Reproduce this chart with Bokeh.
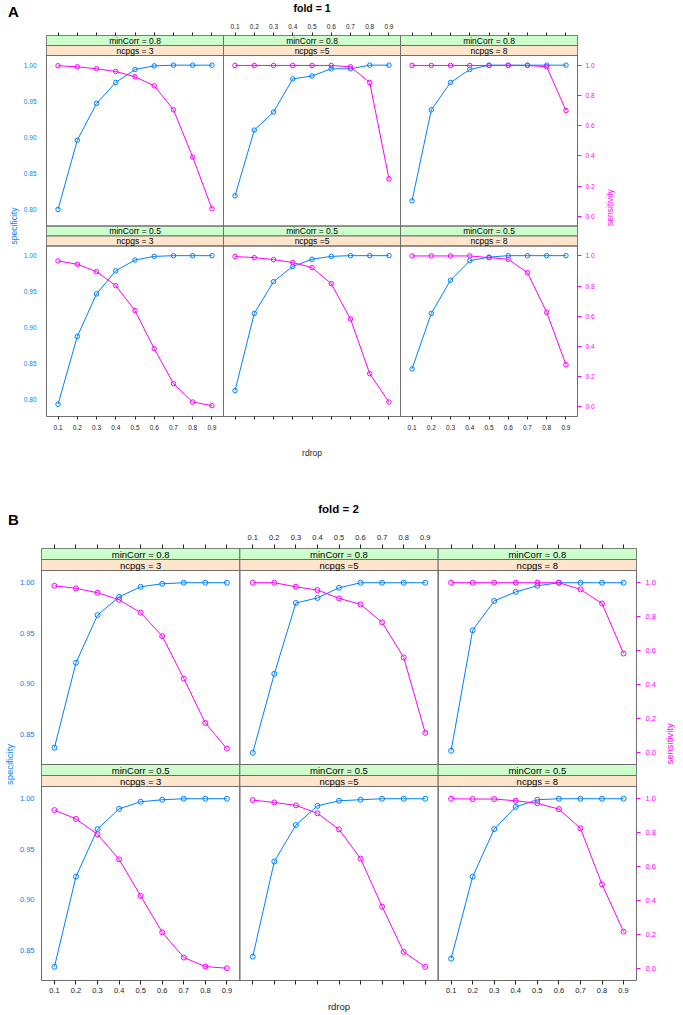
import math
from bokeh.plotting import figure
from bokeh.models import Range1d, LinearAxis, FixedTicker
from bokeh.embed import file_html
from bokeh.resources import INLINE
from bokeh.core.properties import value

# ---------------- data ----------------
rdrop = [0.1, 0.2, 0.3, 0.4, 0.5, 0.6, 0.7, 0.8, 0.9]
rdrop_tick_labels = ["0.1", "0.2", "0.3", "0.4", "0.5", "0.6", "0.7", "0.8", "0.9"]
minCorr_strips = ["minCorr = 0.8", "minCorr = 0.5"]
ncpgs_strips = ["ncpgs = 3", "ncpgs =5", "ncpgs = 8"]
spec_ticks_fold1 = [0.80, 0.85, 0.90, 0.95, 1.00]
spec_labels_fold1 = ["0.80", "0.85", "0.90", "0.95", "1.00"]
spec_ticks_fold2 = [0.85, 0.90, 0.95, 1.00]
spec_labels_fold2 = ["0.85", "0.90", "0.95", "1.00"]
sens_ticks = [0.0, 0.2, 0.4, 0.6, 0.8, 1.0]
sens_labels = ["0.0", "0.2", "0.4", "0.6", "0.8", "1.0"]

# fold 1, minCorr = 0.8
spec_f1_mc08_n3 = [0.800, 0.896, 0.947, 0.976, 0.994, 0.999, 1.000, 1.000, 1.000]
sens_f1_mc08_n3 = [0.998, 0.991, 0.978, 0.960, 0.925, 0.865, 0.706, 0.392, 0.049]
spec_f1_mc08_n5 = [0.819, 0.910, 0.935, 0.981, 0.985, 0.995, 0.995, 1.000, 1.000]
sens_f1_mc08_n5 = [1.000, 1.000, 1.000, 1.000, 1.000, 1.000, 0.991, 0.887, 0.248]
spec_f1_mc08_n8 = [0.812, 0.938, 0.976, 0.994, 1.000, 1.000, 1.000, 1.000, 1.000]
sens_f1_mc08_n8 = [1.000, 1.000, 1.000, 1.000, 1.000, 1.000, 1.000, 0.991, 0.701]
# fold 1, minCorr = 0.5
spec_f1_mc05_n3 = [0.794, 0.888, 0.947, 0.979, 0.994, 0.999, 1.000, 1.000, 1.000]
sens_f1_mc05_n3 = [0.967, 0.945, 0.896, 0.803, 0.637, 0.385, 0.153, 0.031, 0.007]
spec_f1_mc05_n5 = [0.813, 0.920, 0.964, 0.985, 0.995, 0.999, 1.000, 1.000, 1.000]
sens_f1_mc05_n5 = [0.996, 0.989, 0.976, 0.956, 0.923, 0.816, 0.582, 0.219, 0.031]
spec_f1_mc05_n8 = [0.843, 0.920, 0.966, 0.993, 0.998, 1.000, 1.000, 1.000, 1.000]
sens_f1_mc05_n8 = [1.000, 1.000, 1.000, 1.000, 0.989, 0.978, 0.889, 0.626, 0.279]

# fold 2, minCorr = 0.8
spec_f2_mc08_n3 = [0.837, 0.921, 0.968, 0.986, 0.996, 0.999, 1.000, 1.000, 1.000]
sens_f2_mc08_n3 = [0.982, 0.967, 0.941, 0.900, 0.824, 0.686, 0.437, 0.176, 0.025]
spec_f2_mc08_n5 = [0.832, 0.910, 0.980, 0.985, 0.995, 1.000, 1.000, 1.000, 1.000]
sens_f2_mc08_n5 = [1.000, 1.000, 0.976, 0.957, 0.908, 0.873, 0.767, 0.561, 0.118]
spec_f2_mc08_n8 = [0.834, 0.953, 0.982, 0.991, 0.997, 1.000, 1.000, 1.000, 1.000]
sens_f2_mc08_n8 = [1.000, 1.000, 1.000, 1.000, 1.000, 1.000, 0.961, 0.878, 0.584]
# fold 2, minCorr = 0.5
spec_f2_mc05_n3 = [0.834, 0.923, 0.970, 0.990, 0.997, 0.999, 1.000, 1.000, 1.000]
sens_f2_mc05_n3 = [0.933, 0.881, 0.791, 0.644, 0.429, 0.215, 0.067, 0.014, 0.004]
spec_f2_mc05_n5 = [0.844, 0.938, 0.974, 0.993, 0.998, 0.999, 1.000, 1.000, 1.000]
sens_f2_mc05_n5 = [0.992, 0.978, 0.961, 0.914, 0.820, 0.648, 0.366, 0.100, 0.012]
spec_f2_mc05_n8 = [0.842, 0.923, 0.970, 0.992, 0.999, 1.000, 1.000, 1.000, 1.000]
sens_f2_mc05_n8 = [1.000, 0.998, 0.998, 0.988, 0.973, 0.939, 0.826, 0.497, 0.219]

# ---------------- style ----------------
BLUE = "#0080ff"
MAGENTA = "#ff00ff"
GREEN = "#ccffcc"
ORANGE = "#ffe5cc"
FRAME = "#6e6e6e"
TXT = "#222222"
FONT = "Liberation Sans"
PAGE_W = 683


def make_header(top, height, items):
    h = figure(width=PAGE_W, height=height, output_backend="svg", toolbar_location=None,
               x_range=Range1d(0, PAGE_W), y_range=Range1d(top + height, top),
               x_axis_type=None, y_axis_type=None, title_location=None, min_border=0)
    h.min_border_left = h.min_border_right = h.min_border_top = h.min_border_bottom = 0
    h.outline_line_color = None
    h.background_fill_color = "white"
    h.border_fill_color = "white"
    for (x, y, txt, fs) in items:
        h.text(x=[x], y=[y], text=[txt], text_align="center", text_baseline="middle",
               text_font=value(FONT), text_font_size=value(fs), text_font_style=value("bold"),
               text_color="black")
    return h


def make_fold(g, spec, sens, spec_ticks, spec_labels):
    L, R, T, B, sh = g["L"], g["R"], g["T"], g["B"], g["sh"]
    top, H = g["top"], g["height"]
    p = figure(width=PAGE_W, height=H, output_backend="svg", toolbar_location=None,
               x_range=Range1d(L, R), y_range=Range1d(B, T),
               x_axis_type=None, y_axis_type=None, title_location=None,
               min_border_left=int(round(L)), min_border_right=int(round(PAGE_W - R)),
               min_border_top=int(round(T - top)), min_border_bottom=int(round(top + H - B)))
    p.background_fill_color = "white"
    p.border_fill_color = "white"
    p.outline_line_color = FRAME
    p.outline_line_width = 1

    cw = (R - L) / 3.0
    rh = (B - T) / 2.0
    xlo, xhi = g["xlim"]
    dx = xhi - xlo
    p.extra_x_ranges = {f"x{c}": Range1d(xlo - c * dx, xhi + (2 - c) * dx) for c in range(3)}

    dtop = [T + r * rh + 2 * sh for r in range(2)]
    dbot = [T + (r + 1) * rh for r in range(2)]

    def scale(lim, r):
        return (lim[1] - lim[0]) / (dbot[r] - dtop[r])

    def yrange(lim, r):
        k = scale(lim, r)
        return Range1d(lim[0] - (B - dbot[r]) * k, lim[1] + (dtop[r] - T) * k)

    def ypos(lim, r, v):
        return dbot[r] - (v - lim[0]) / scale(lim, r)

    yr = {}
    for r in range(2):
        yr[f"spec{r}"] = yrange(g["spec_lim"], r)
        yr[f"sens{r}"] = yrange(g["sens_lim"], r)
    p.extra_y_ranges = yr

    # strips and panel boxes (layout)
    sl, sr, st, sb, sf = [], [], [], [], []
    bl, br, bt, bb = [], [], [], []
    tx, ty, tt = [], [], []
    for r in range(2):
        for c in range(3):
            x0 = L + c * cw
            x1 = x0 + cw
            y0 = T + r * rh
            sl += [x0, x0]; sr += [x1, x1]
            st += [y0, y0 + sh]; sb += [y0 + sh, y0 + 2 * sh]
            sf += [GREEN, ORANGE]
            bl.append(x0); br.append(x1); bt.append(y0 + 2 * sh); bb.append(y0 + rh)
            tx += [(x0 + x1) / 2, (x0 + x1) / 2]
            ty += [y0 + sh / 2, y0 + 1.5 * sh]
            tt += [minCorr_strips[r], ncpgs_strips[c]]
    p.quad(left=sl, right=sr, top=st, bottom=sb, fill_color=sf, line_color=FRAME, line_width=1)
    p.quad(left=bl, right=br, top=bt, bottom=bb, fill_color=None, line_color=FRAME, line_width=1)
    p.text(x=tx, y=ty, text=tt, text_align="center", text_baseline="middle",
           text_font=value(FONT), text_font_size=value(g["strip_fs"]), text_color="black")

    # data
    for r in range(2):
        for c in range(3):
            xn = f"x{c}"
            p.line(rdrop, spec[r][c], x_range_name=xn, y_range_name=f"spec{r}",
                   line_color=BLUE, line_width=1)
            p.scatter(rdrop, spec[r][c], x_range_name=xn, y_range_name=f"spec{r}",
                      marker="circle", size=g["msize"], fill_color=None, line_color=BLUE, line_width=1)
            p.line(rdrop, sens[r][c], x_range_name=xn, y_range_name=f"sens{r}",
                   line_color=MAGENTA, line_width=1)
            p.scatter(rdrop, sens[r][c], x_range_name=xn, y_range_name=f"sens{r}",
                      marker="circle", size=g["msize"], fill_color=None, line_color=MAGENTA, line_width=1)

    def add_axis(side, ticks, labels, color, tick_out, standoff, fs,
                 label=None, label_fs=None, label_standoff=5, label_angle=None):
        ax = LinearAxis(ticker=FixedTicker(ticks=ticks, minor_ticks=[]),
                        major_label_overrides={t: l for t, l in zip(ticks, labels)})
        ax.axis_line_color = None
        ax.major_tick_in = 0
        ax.major_tick_out = tick_out
        ax.major_tick_line_color = color if tick_out > 0 else None
        ax.minor_tick_line_color = None
        ax.major_label_text_color = color
        ax.major_label_text_font = FONT
        ax.major_label_text_font_size = fs
        ax.major_label_standoff = standoff
        if label is not None:
            ax.axis_label = label
            ax.axis_label_text_font = FONT
            ax.axis_label_text_font_size = label_fs
            ax.axis_label_text_font_style = "normal"
            ax.axis_label_text_color = color
            ax.axis_label_standoff = label_standoff
            if label_angle is not None and "axis_label_orientation" in LinearAxis.properties():
                ax.axis_label_orientation = label_angle
        p.add_layout(ax, side)

    # x axes: bottom labelled in columns 1 and 3, top labelled in column 2
    xt, xb_lab, xt_lab = [], [], []
    for c in range(3):
        for v, lab in zip(rdrop, rdrop_tick_labels):
            xt.append(L + c * cw + (v - xlo) / dx * cw)
            xb_lab.append(lab if c != 1 else "")
            xt_lab.append(lab if c == 1 else "")
    add_axis("below", xt, xb_lab, TXT, g["xtick"], g["bstand"], g["tick_fs"],
             label="rdrop", label_fs=g["lab_fs"], label_standoff=g["bot_ls"])
    add_axis("above", xt, xt_lab, TXT, g["xtick"], g["tstand"], g["tick_fs"])

    yl, yl_lab, yrt, yr_lab = [], [], [], []
    for r in range(2):
        for v, lab in zip(spec_ticks, spec_labels):
            yl.append(ypos(g["spec_lim"], r, v)); yl_lab.append(lab)
        for v, lab in zip(sens_ticks, sens_labels):
            yrt.append(ypos(g["sens_lim"], r, v)); yr_lab.append(lab)
    add_axis("left", yl, yl_lab, BLUE, 0, g["lstand"], g["tick_fs"],
             label="specificity", label_fs=g["lab_fs"], label_standoff=g["left_ls"])
    add_axis("right", yrt, yr_lab, MAGENTA, g["rtick"], g["rstand"], g["tick_fs"],
             label="sensitivity", label_fs=g["lab_fs"], label_standoff=g["right_ls"],
             label_angle=math.pi / 2)
    return p


gA = dict(top=20, height=445, L=46, R=577, T=35, B=416, sh=10, xlim=(0.04, 0.96),
          spec_lim=(0.7771, 1.0134), sens_lim=(-0.065, 1.066),
          strip_fs="8.5px", tick_fs="6.5px", lab_fs="8.5px", msize=4.5,
          xtick=3, tstand=4, bstand=5, lstand=10, rtick=4, rstand=4,
          left_ls=2, right_ls=12, bot_ls=15)
gB = dict(top=528, height=487, L=37, R=639, T=548, B=980, sh=11, xlim=(0.04, 0.96),
          spec_lim=(0.8204, 1.0121), sens_lim=(-0.068, 1.0718),
          strip_fs="9.5px", tick_fs="7.5px", lab_fs="9.5px", msize=5,
          xtick=4, tstand=5, bstand=3, lstand=7, rtick=4, rstand=5,
          left_ls=2, right_ls=11, bot_ls=5)

specA = [[spec_f1_mc08_n3, spec_f1_mc08_n5, spec_f1_mc08_n8],
         [spec_f1_mc05_n3, spec_f1_mc05_n5, spec_f1_mc05_n8]]
sensA = [[sens_f1_mc08_n3, sens_f1_mc08_n5, sens_f1_mc08_n8],
         [sens_f1_mc05_n3, sens_f1_mc05_n5, sens_f1_mc05_n8]]
specB = [[spec_f2_mc08_n3, spec_f2_mc08_n5, spec_f2_mc08_n8],
         [spec_f2_mc05_n3, spec_f2_mc05_n5, spec_f2_mc05_n8]]
sensB = [[sens_f2_mc08_n3, sens_f2_mc08_n5, sens_f2_mc08_n8],
         [sens_f2_mc05_n3, sens_f2_mc05_n5, sens_f2_mc05_n8]]

hA = make_header(0, 20, [(13, 10.5, "A", "15px"), (311.5, 7.5, "fold = 1", "10.5px")])
pA = make_fold(gA, specA, sensA, spec_ticks_fold1, spec_labels_fold1)
hB = make_header(465, 63, [(13, 519, "B", "15px"), (338, 508, "fold = 2", "11.5px")])
pB = make_fold(gB, specB, sensB, spec_ticks_fold2, spec_labels_fold2)

open("out.html", "w").write(file_html([hA, pA, hB, pB], INLINE))
